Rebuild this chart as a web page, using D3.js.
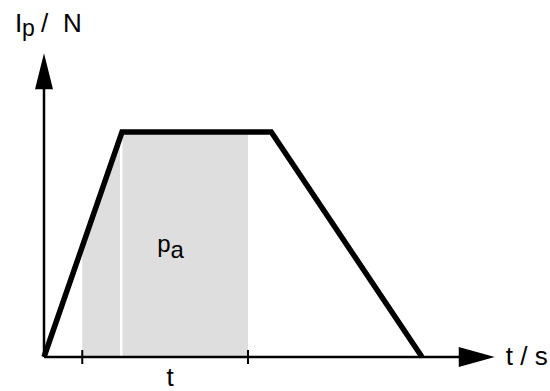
<!DOCTYPE html>
<html>
<head>
<meta charset="utf-8">
<script src="https://cdn.jsdelivr.net/npm/d3@7"></script>
<style>
  html, body { margin: 0; padding: 0; background: #fff; }
  text { font-family: "Liberation Sans", Arial, Helvetica, sans-serif; fill: #000; }
</style>
</head>
<body>
<svg id="chart" width="550" height="391"></svg>
<script>
// force profile: time (arbitrary units) and normalised force
let profileTime = [0, 10.4, 30.3, 50.4];
let profileForce = [0, 1, 1, 0];
// shaded window between the two ticks, split where the plateau starts
let windowTicks = [5.1, 27.2];
let windowSplit = 10.3;
let axisMax = {t: 60.1, f: 1.35};

let svg = d3.select('#chart');
let x = d3.scaleLinear().domain([0, 60]).range([44, 494]);
let y = d3.scaleLinear().domain([0, 1]).range([357, 132]);

let profile = profileTime.map((t, i) => ({t: t, f: profileForce[i]}));

// shaded area under the curve, clipped to the window
svg.append('clipPath').attr('id', 'win')
  .append('rect')
  .attr('x', x(windowTicks[0]))
  .attr('y', y(axisMax.f))
  .attr('width', x(windowTicks[1]) - x(windowTicks[0]))
  .attr('height', y(0) - y(axisMax.f));

let area = d3.area().x(d => x(d.t)).y0(y(0)).y1(d => y(d.f));
svg.append('path')
  .datum(profile)
  .attr('d', area)
  .attr('clip-path', 'url(#win)')
  .attr('fill', '#dedede');

svg.append('line')
  .attr('x1', x(windowSplit)).attr('x2', x(windowSplit))
  .attr('y1', y(0)).attr('y2', y(1))
  .attr('stroke', '#fff').attr('stroke-width', 2.5);

// axes with arrow heads
let axes = svg.append('g').attr('stroke', '#000').attr('stroke-width', 2.5);
axes.append('line')
  .attr('x1', x(0)).attr('x2', x(axisMax.t) - 30)
  .attr('y1', y(0)).attr('y2', y(0));
axes.append('line')
  .attr('x1', x(0)).attr('x2', x(0))
  .attr('y1', y(0)).attr('y2', y(axisMax.f) + 30);

svg.append('path')
  .attr('d', d3.line()([[x(axisMax.t), y(0)], [x(axisMax.t) - 36, y(0) - 10], [x(axisMax.t) - 36, y(0) + 10]]) + 'Z')
  .attr('fill', '#000');
svg.append('path')
  .attr('d', d3.line()([[x(0), y(axisMax.f)], [x(0) - 9, y(axisMax.f) + 36], [x(0) + 9, y(axisMax.f) + 36]]) + 'Z')
  .attr('fill', '#000');

svg.selectAll('.tick')
  .data(windowTicks)
  .join('line')
  .attr('class', 'tick')
  .attr('x1', d => x(d)).attr('x2', d => x(d))
  .attr('y1', y(0) - 7).attr('y2', y(0) + 7)
  .attr('stroke', '#000').attr('stroke-width', 2);

// force profile line
let line = d3.line().x(d => x(d.t)).y(d => y(d.f));
svg.append('path')
  .datum(profile)
  .attr('d', line)
  .attr('fill', 'none')
  .attr('stroke', '#000')
  .attr('stroke-width', 5.5)
  .attr('stroke-linejoin', 'miter');

// labels
let yLabel = svg.append('text').attr('y', 32).attr('font-size', 26);
yLabel.append('tspan').attr('x', 15).text('I');
yLabel.append('tspan').attr('x', 22).attr('dy', 4).attr('font-size', 23).text('p');
yLabel.append('tspan').attr('x', 41).attr('dy', -4).text('/');
yLabel.append('tspan').attr('x', 63).text('N');

svg.append('text')
  .attr('x', x(axisMax.t) + 11).attr('y', y(0) + 8)
  .attr('font-size', 26)
  .text('t / s');

svg.append('text')
  .attr('x', x(16.8)).attr('y', 386)
  .attr('text-anchor', 'middle')
  .attr('font-size', 26)
  .text('t');

let pa = svg.append('text').attr('x', x(15.1)).attr('y', 252).attr('font-size', 24);
pa.append('tspan').text('p');
pa.append('tspan').attr('dy', 6).text('a');
</script>
</body>
</html>
